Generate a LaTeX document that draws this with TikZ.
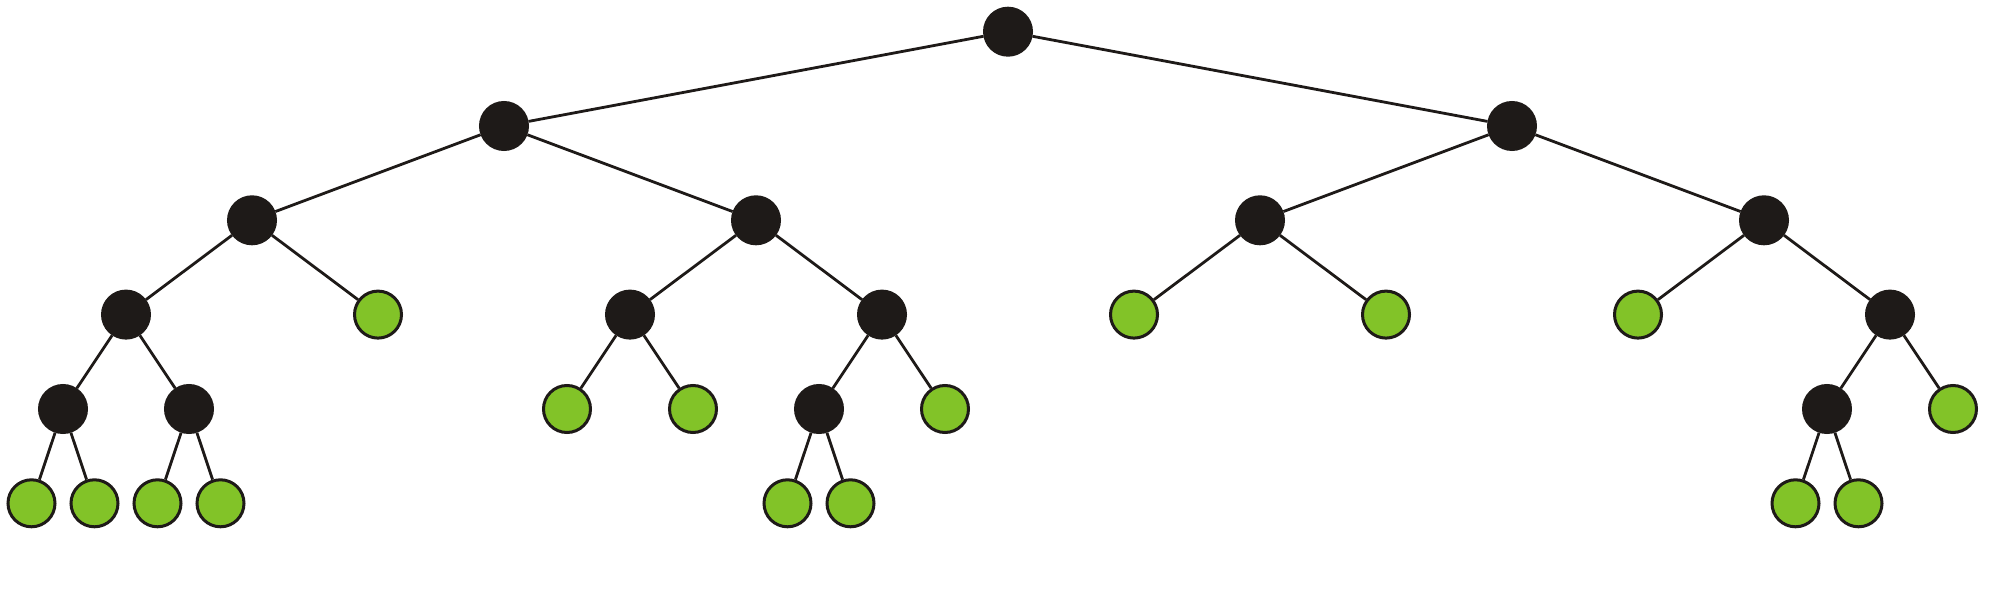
\documentclass[tikz,border=0pt]{standalone}
\definecolor{nodeblack}{RGB}{30,26,24}
\definecolor{leafgreen}{RGB}{130,195,40}
\begin{document}
\begin{tikzpicture}[x=0.5pt,y=-0.5pt,
  inner/.style={circle,fill=nodeblack,draw=nodeblack,line width=1.5pt,minimum size=23.5pt,inner sep=0pt},
  leaf/.style={circle,fill=leafgreen,draw=nodeblack,line width=1.5pt,minimum size=23.5pt,inner sep=0pt},
  edge/.style={draw=nodeblack,line width=1.4pt}]
\useasboundingbox (0,0) rectangle (2015,614);
\def\un{31.5}
% level 0
\node[inner] (r) at (32*\un,31.7) {};
% level 1
\node[inner] (a) at (16*\un,126) {};
\node[inner] (b) at (48*\un,126) {};
% level 2
\node[inner] (aa) at (8*\un,220.3) {};
\node[inner] (ab) at (24*\un,220.3) {};
\node[inner] (ba) at (40*\un,220.3) {};
\node[inner] (bb) at (56*\un,220.3) {};
% level 3
\node[inner] (aaa) at (4*\un,314.6) {};
\node[leaf] (aab) at (12*\un,314.6) {};
\node[inner] (aba) at (20*\un,314.6) {};
\node[inner] (abb) at (28*\un,314.6) {};
\node[leaf] (baa) at (36*\un,314.6) {};
\node[leaf] (bab) at (44*\un,314.6) {};
\node[leaf] (bba) at (52*\un,314.6) {};
\node[inner] (bbb) at (60*\un,314.6) {};
% level 4
\node[inner] (aaaa) at (2*\un,409) {};
\node[inner] (aaab) at (6*\un,409) {};
\node[leaf] (abaa) at (18*\un,409) {};
\node[leaf] (abab) at (22*\un,409) {};
\node[inner] (abba) at (26*\un,409) {};
\node[leaf] (abbb) at (30*\un,409) {};
\node[inner] (bbba) at (58*\un,409) {};
\node[leaf] (bbbb) at (62*\un,409) {};
% level 5
\node[leaf] (l1) at (1*\un,503.3) {};
\node[leaf] (l2) at (3*\un,503.3) {};
\node[leaf] (l3) at (5*\un,503.3) {};
\node[leaf] (l4) at (7*\un,503.3) {};
\node[leaf] (l5) at (25*\un,503.3) {};
\node[leaf] (l6) at (27*\un,503.3) {};
\node[leaf] (l7) at (57*\un,503.3) {};
\node[leaf] (l8) at (59*\un,503.3) {};
% edges
\path[edge] (r)--(a) (r)--(b)
  (a)--(aa) (a)--(ab) (b)--(ba) (b)--(bb)
  (aa)--(aaa) (aa)--(aab) (ab)--(aba) (ab)--(abb)
  (ba)--(baa) (ba)--(bab) (bb)--(bba) (bb)--(bbb)
  (aaa)--(aaaa) (aaa)--(aaab) (aba)--(abaa) (aba)--(abab)
  (abb)--(abba) (abb)--(abbb) (bbb)--(bbba) (bbb)--(bbbb)
  (aaaa)--(l1) (aaaa)--(l2) (aaab)--(l3) (aaab)--(l4)
  (abba)--(l5) (abba)--(l6) (bbba)--(l7) (bbba)--(l8);
\end{tikzpicture}
\end{document}
